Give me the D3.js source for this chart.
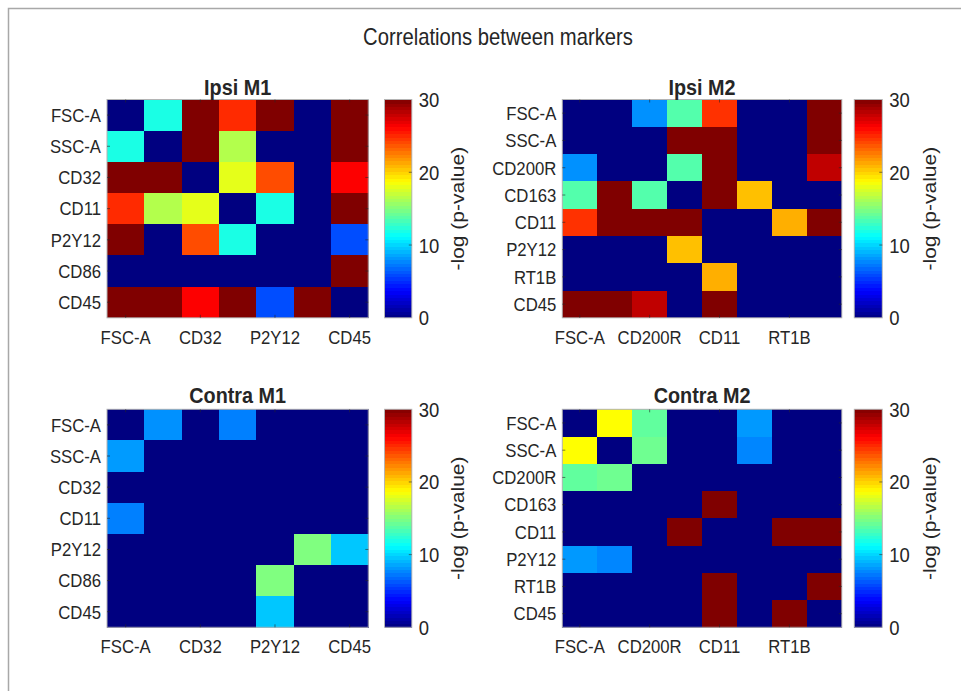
<!DOCTYPE html>
<html>
<head>
<meta charset="utf-8">
<script src="https://cdn.jsdelivr.net/npm/d3@7"></script>
<style>
  html, body { margin: 0; padding: 0; background: #fff; }
  svg { display: block; }
  text { font-family: "Liberation Sans", Arial, Helvetica, sans-serif; fill: #262626; }
</style>
</head>
<body>
<svg id="chart" width="961" height="691"></svg>
<script>
// Marker panels (rows and columns share the same order)
const markersM1 = ["FSC-A", "SSC-A", "CD32", "CD11", "P2Y12", "CD86", "CD45"];
const markersM2 = ["FSC-A", "SSC-A", "CD200R", "CD163", "CD11", "P2Y12", "RT1B", "CD45"];

// Every other marker is labelled along the x axis
const xTicksM1 = ["FSC-A", "CD32", "P2Y12", "CD45"];
const xTicksM2 = ["FSC-A", "CD200R", "CD11", "RT1B"];

// -log(p-value), row by row
const ipsiM1 = [
  [0, 12, 30, 25, 30, 0, 30],
  [12, 0, 30, 16.5, 0, 0, 30],
  [30, 30, 0, 18, 24, 0, 26.3],
  [25, 16.5, 18, 0, 12, 0, 30],
  [30, 0, 24, 12, 0, 0, 6],
  [0, 0, 0, 0, 0, 0, 30],
  [30, 30, 26.3, 30, 6, 30, 0]
];
const ipsiM2 = [
  [0, 0, 8, 13.7, 24.8, 0, 0, 30],
  [0, 0, 0, 30, 30, 0, 0, 30],
  [8, 0, 0, 13.7, 30, 0, 0, 28.1],
  [13.7, 30, 13.7, 0, 30, 20.6, 0, 0],
  [24.8, 30, 30, 30, 0, 0, 21.1, 30],
  [0, 0, 0, 20.6, 0, 0, 0, 0],
  [0, 0, 0, 0, 21.1, 0, 0, 0],
  [30, 30, 28.1, 0, 30, 0, 0, 0]
];
const contraM1 = [
  [0, 8, 0, 7.5, 0, 0, 0],
  [8.3, 0, 0, 0, 0, 0, 0],
  [0, 0, 0, 0, 0, 0, 0],
  [7.5, 0, 0, 0, 0, 0, 0],
  [0, 0, 0, 0, 0, 15, 9.6],
  [0, 0, 0, 0, 15, 0, 0],
  [0, 0, 0, 0, 9.6, 0, 0]
];
const contraM2 = [
  [0, 18.75, 14.1, 0, 0, 8.25, 0, 0],
  [18.75, 0, 14.5, 0, 0, 7.7, 0, 0],
  [14.1, 14.5, 0, 0, 0, 0, 0, 0],
  [0, 0, 0, 0, 30, 0, 0, 0],
  [0, 0, 0, 30, 0, 0, 30, 30],
  [8.25, 7.7, 0, 0, 0, 0, 0, 0],
  [0, 0, 0, 0, 30, 0, 0, 30],
  [0, 0, 0, 0, 30, 0, 30, 0]
];

const colorbarTicks = [0, 10, 20, 30];
const colorDomain = [0, 30];
const mainTitle = "Correlations between markers";
const colorbarLabel = "-log (p-value)";

// ---- drawing ----
const SX = 0.88;  // horizontal squeeze applied to all text
const svg = d3.select("#chart");

// MATLAB-style jet colormap
function jet(t) {
  const c = v => Math.max(0, Math.min(1, v));
  const r = c(1.5 - Math.abs(4 * t - 3));
  const g = c(1.5 - Math.abs(4 * t - 2));
  const b = c(1.5 - Math.abs(4 * t - 1));
  return d3.rgb(r * 255, g * 255, b * 255).toString();
}
const color = d3.scaleSequential(jet).domain(colorDomain);

function squeezedText(sel, x, y) {
  return sel.attr("transform", `translate(${x},${y}) scale(${SX},1)`);
}

// outer figure frame
svg.append("path")
  .attr("d", "M8.5,691 L8.5,8.5 L961,8.5")
  .attr("fill", "none").attr("stroke", "#a8a8a8").attr("stroke-width", 1.5);

squeezedText(svg.append("text"), 498, 45)
  .attr("text-anchor", "middle").attr("font-size", 23).text(mainTitle);

const panels = [
  { title: "Ipsi M1", markers: markersM1, xTicks: xTicksM1, values: ipsiM1,
    x0: 107, x1: 368.3, y0: 99.5, y1: 317.8, cb: [384.5, 411.8], cbLabelX: 458, titleY: 95 },
  { title: "Ipsi M2", markers: markersM2, xTicks: xTicksM2, values: ipsiM2,
    x0: 562.3, x1: 841.8, y0: 99.5, y1: 317.8, cb: [854.3, 882.3], cbLabelX: 930, titleY: 95 },
  { title: "Contra M1", markers: markersM1, xTicks: xTicksM1, values: contraM1,
    x0: 107, x1: 368.3, y0: 409.3, y1: 627.3, cb: [384.5, 411.8], cbLabelX: 458, titleY: 403 },
  { title: "Contra M2", markers: markersM2, xTicks: xTicksM2, values: contraM2,
    x0: 562.3, x1: 841.8, y0: 409.3, y1: 627.3, cb: [854.3, 882.3], cbLabelX: 930, titleY: 403 }
];

panels.forEach(p => {
  const g = svg.append("g");
  const x = d3.scaleBand().domain(p.markers).range([p.x0, p.x1]);
  const y = d3.scaleBand().domain(p.markers).range([p.y0, p.y1]);

  const cells = [];
  p.values.forEach((row, i) => row.forEach((v, j) =>
    cells.push({ row: p.markers[i], col: p.markers[j], v })));

  g.selectAll("rect.cell").data(cells).join("rect")
    .attr("class", "cell")
    .attr("x", d => x(d.col)).attr("y", d => y(d.row))
    .attr("width", x.bandwidth() + 0.5).attr("height", y.bandwidth() + 0.5)
    .attr("fill", d => color(d.v))
    .attr("shape-rendering", "crispEdges");

  // axes box
  g.append("rect")
    .attr("x", p.x0).attr("y", p.y0)
    .attr("width", p.x1 - p.x0).attr("height", p.y1 - p.y0)
    .attr("fill", "none").attr("stroke", "#b4b4b4").attr("stroke-width", 1);

  // inward tick marks on all four sides
  const tk = 3;
  p.markers.forEach(m => {
    const cy = y(m) + y.bandwidth() / 2;
    g.append("line").attr("x1", p.x0).attr("x2", p.x0 + tk).attr("y1", cy).attr("y2", cy)
      .attr("stroke", "#262626").attr("stroke-opacity", 0.6);
    g.append("line").attr("x1", p.x1).attr("x2", p.x1 - tk).attr("y1", cy).attr("y2", cy)
      .attr("stroke", "#262626").attr("stroke-opacity", 0.6);
  });
  p.xTicks.forEach(m => {
    const cx = x(m) + x.bandwidth() / 2;
    g.append("line").attr("x1", cx).attr("x2", cx).attr("y1", p.y0).attr("y2", p.y0 + tk)
      .attr("stroke", "#262626").attr("stroke-opacity", 0.6);
    g.append("line").attr("x1", cx).attr("x2", cx).attr("y1", p.y1).attr("y2", p.y1 - tk)
      .attr("stroke", "#262626").attr("stroke-opacity", 0.6);
  });

  // y tick labels
  p.markers.forEach(m => {
    squeezedText(g.append("text"), p.x0 - 6, y(m) + y.bandwidth() / 2 + 6.8)
      .attr("text-anchor", "end").attr("font-size", 19).text(m);
  });
  // x tick labels
  p.xTicks.forEach(m => {
    squeezedText(g.append("text"), x(m) + x.bandwidth() / 2, p.y1 + 26)
      .attr("text-anchor", "middle").attr("font-size", 19).text(m);
  });

  // panel title
  squeezedText(g.append("text"), (p.x0 + p.x1) / 2, p.titleY)
    .attr("text-anchor", "middle").attr("font-size", 22.5).attr("font-weight", "bold")
    .attr("fill", "#000").text(p.title);

  // colorbar
  const cbScale = d3.scaleLinear().domain(colorDomain).range([p.y1, p.y0]);
  const nLevels = 64;
  const levels = d3.range(nLevels);
  const step = (colorDomain[1] - colorDomain[0]) / nLevels;
  g.selectAll("rect.cb").data(levels).join("rect")
    .attr("class", "cb")
    .attr("x", p.cb[0]).attr("width", p.cb[1] - p.cb[0])
    .attr("y", i => cbScale((i + 1) * step))
    .attr("height", i => cbScale(i * step) - cbScale((i + 1) * step) + 0.6)
    .attr("fill", i => color((i + 0.5) * step))
    .attr("shape-rendering", "crispEdges");
  g.append("rect")
    .attr("x", p.cb[0]).attr("y", p.y0)
    .attr("width", p.cb[1] - p.cb[0]).attr("height", p.y1 - p.y0)
    .attr("fill", "none").attr("stroke", "#b4b4b4").attr("stroke-width", 1);

  colorbarTicks.forEach(t => {
    const ty = cbScale(t);
    if (t > colorDomain[0] && t < colorDomain[1]) {
      g.append("line").attr("x1", p.cb[1]).attr("x2", p.cb[1] - 3).attr("y1", ty).attr("y2", ty)
        .attr("stroke", "#262626").attr("stroke-opacity", 0.6);
    }
    squeezedText(g.append("text"), p.cb[1] + 7, ty + 7.5)
      .attr("text-anchor", "start").attr("font-size", 21).text(t);
  });

  g.append("text")
    .attr("transform", `translate(${p.cbLabelX + 6},${(p.y0 + p.y1) / 2}) rotate(-90) scale(1,${SX})`)
    .attr("text-anchor", "middle").attr("font-size", 21).text(colorbarLabel);
});
</script>
</body>
</html>
